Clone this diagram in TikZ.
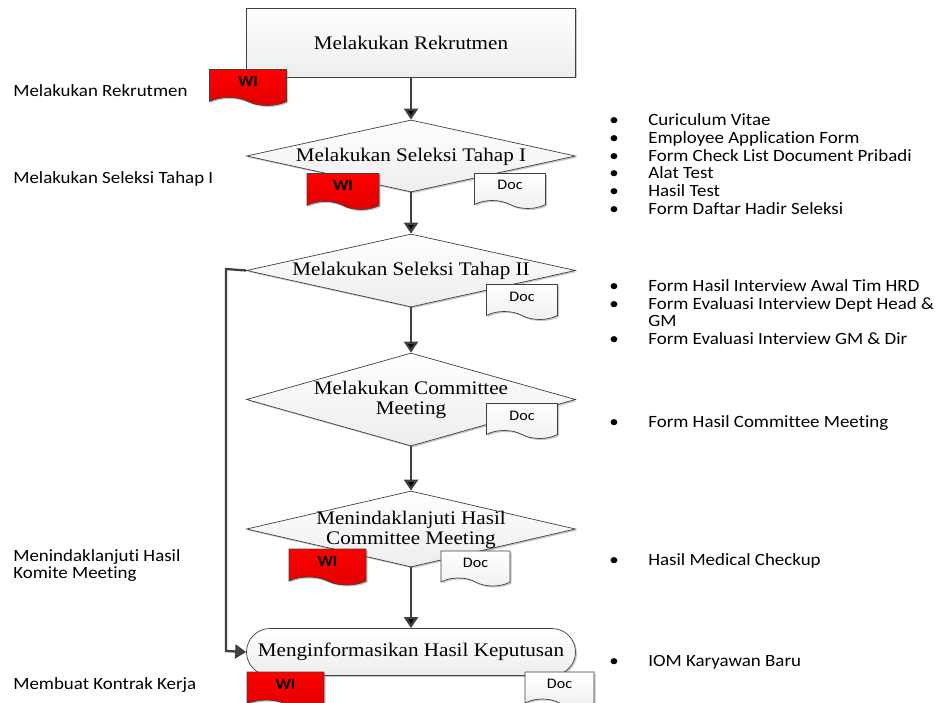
\documentclass[tikz,border=0pt]{standalone}
\usepackage{fontspec}
\setmainfont[FakeStretch=1.1]{Liberation Serif}
\newfontfamily\labelfont[FakeStretch=1.1,Ligatures=NoCommon]{Carlito}
\usepackage{tikz}
\usetikzlibrary{arrows.meta}
\usetikzlibrary{shapes.geometric}
\usetikzlibrary{shapes.misc}
\usetikzlibrary{shapes.symbols}
\usetikzlibrary{shadows}
\definecolor{linegray}{RGB}{64,64,64}
\definecolor{wired}{RGB}{255,0,0}
\def\steptext#1{\makebox[0pt]{\raisebox{-.34em}[0pt][0pt]{\begin{tabular}[c]{@{}c@{}}#1\end{tabular}}}}
\def\bulletlist#1{\begin{tabular}{@{}p{39pt}@{}l@{}}#1\end{tabular}}
\def\§{\textbullet &}

\begin{document}
\begin{tikzpicture}[x=1pt,y=-1pt,->,>={Triangle[width=14pt,length=11pt]},line width=.7pt,
	node distance=113.5pt,font=\fontsize{19.2}{20}\selectfont]
	\tikzstyle{every shadow}=[shadow xshift=1.5pt,shadow yshift=-1.5pt,fill=black!40,opacity=.55]
	\tikzstyle{flowbase}=[draw=linegray,top color=white,bottom color=black!7,drop shadow,inner sep=0pt]
	\tikzstyle{process}=[flowbase,rectangle,minimum width=329pt,minimum height=69pt]
	\tikzstyle{decision}=[flowbase,diamond,aspect=4,minimum width=329pt]
	\tikzstyle{terminal}=[flowbase,rounded rectangle,minimum width=329pt,minimum height=47pt]
	\tikzstyle{flowline}=[draw=linegray,line width=2.3pt]
	\tikzstyle{paper}=[tape,tape bend top=none,tape bend bottom=out and in,tape bend height=8pt,
		draw=linegray,drop shadow,inner sep=0pt,text height=9pt,text depth=3pt,
		font=\labelfont\fontsize{14.6}{15}\selectfont]
	\tikzstyle{wi}=[paper,top color=wired,bottom color=wired!88!black,minimum width=77pt,minimum height=36pt,
		font=\labelfont\bfseries\fontsize{15.5}{15}\selectfont]
	\tikzstyle{doc}=[paper,top color=white,bottom color=black!6,minimum width=71pt,minimum height=35pt]
	\tikzstyle{note}=[anchor=west,align=left,inner sep=0pt,
		font=\labelfont\fontsize{17.2}{17.7}\selectfont]

	\useasboundingbox (0,0) rectangle (936,703);

	\node[process]  (rekrut) at (411,42.5) {Melakukan Rekrutmen};
	\node[decision,minimum height=72pt] (seleksiA) [below of=rekrut]   {\steptext{Melakukan Seleksi Tahap I}};
	\node[decision,minimum height=73pt] (seleksiB) [below of=seleksiA,node distance=114.5pt] {\steptext{Melakukan Seleksi Tahap II}};
	\node[decision,minimum height=93pt] (committee) [below of=seleksiB,node distance=129pt] {\steptext{Melakukan Committee\\Meeting}};
	\node[decision,minimum height=76pt] (tindak) [below of=committee,node distance=129.5pt] {\steptext{Menindaklanjuti Hasil\\Committee Meeting}};
	\node[terminal] (info) [below of=tindak,node distance=123pt] {Menginformasikan Hasil Keputusan};

	\coordinate (belok) at (226,269);
	\coordinate (masuk) at (226,651);

	\path[flowline]
		(rekrut) edge (seleksiA)
		(seleksiA) edge (seleksiB)
		(seleksiB) edge (committee)
		(committee) edge (tindak)
		(tindak) edge (info)
	;
	\draw[flowline] (seleksiB.west) -- (belok) -- (masuk) -- (info.west);

	\begin{scope}[-]
	\node[wi]  (wiA) at (248,83.5) {WI};
	\node[wi,minimum width=72pt]  (wiB) at (343,187.5) {WI};
	\node[doc] (docB) at (510,187) {Doc};
	\node[doc] (docC) at (522,298) {Doc};
	\node[doc] (docD) at (522,417) {Doc};
	\node[wi]  (wiE) at (327.5,563) {WI};
	\node[doc,minimum width=69pt] (docE) at (475.5,564.5) {Doc};
	\node[wi]  (wiF) at (285.5,686) {WI};
	\node[doc,minimum width=69pt] (docF) at (559.5,685.5) {Doc};

	\node[note] (labelA) at (13,90.5)  {Melakukan Rekrutmen};
	\node[note] (labelB) at (13,179) {Melakukan Seleksi Tahap I};
	\node[note] (labelC) at (13,565.5) {Menindaklanjuti Hasil\\Komite Meeting};
	\node[note] (labelD) at (13,685) {Membuat Kontrak Kerja};

	\node[note] (listB) at (609,166.5) {\bulletlist{
		\§ Curiculum Vitae\\
		\§ Employee Application Form\\
		\§ Form Check List Document Pribadi\\
		\§ Alat Test\\
		\§ Hasil Test\\
		\§ Form Daftar Hadir Seleksi}};
	\node[note] (listC) at (609,314.5) {\bulletlist{
		\§ Form Hasil Interview Awal Tim HRD\\
		\§ Form Evaluasi Interview Dept Head \&\\
		& GM\\
		\§ Form Evaluasi Interview GM \& Dir}};
	\node[note] (listD) at (609,423.5) {\bulletlist{\§ Form Hasil Committee Meeting}};
	\node[note] (listE) at (609,561.5) {\bulletlist{\§ Hasil Medical Checkup}};
	\node[note] (listF) at (609,662.5) {\bulletlist{\§ IOM Karyawan Baru}};
	\end{scope}
\end{tikzpicture}
\end{document}
